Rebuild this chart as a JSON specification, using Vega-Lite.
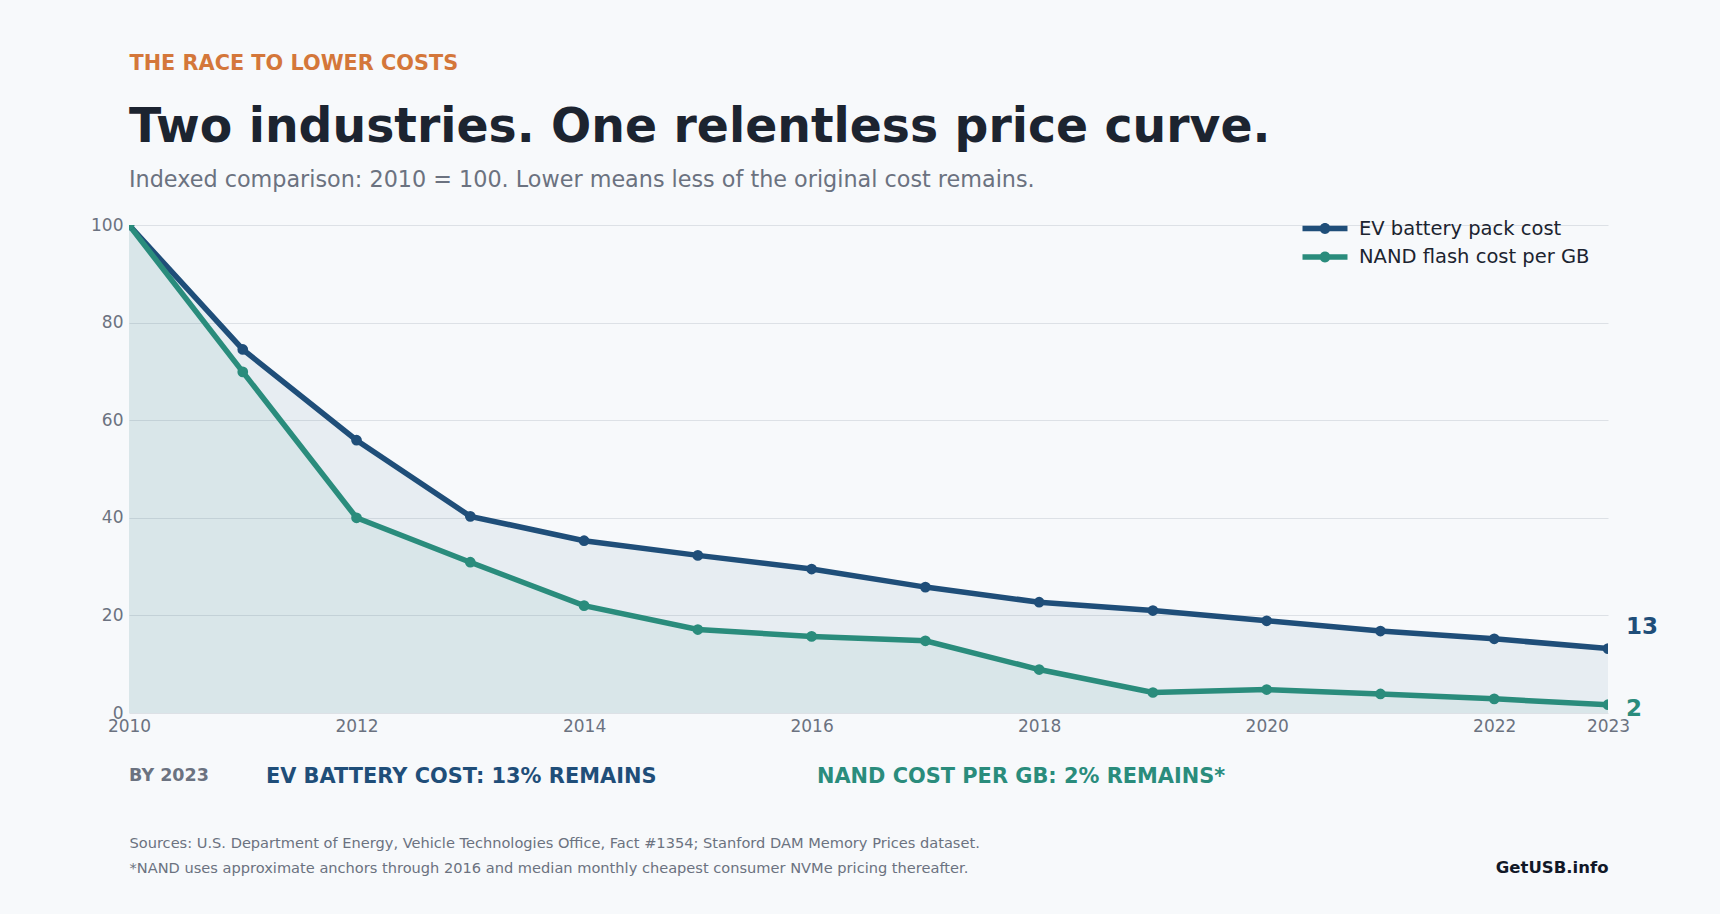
{
  "$schema": "https://vega.github.io/schema/vega-lite/v6.json",
  "width": 1479,
  "height": 488,
  "autosize": {"type": "none"},
  "padding": {"left": 129, "top": 225, "right": 112, "bottom": 201},
  "background": "#f7f9fb",
  "config": {"font": "DejaVu Sans", "view": {"stroke": null}},
  "title": {
    "text": "Two industries. One relentless price curve.",
    "subtitle": "Indexed comparison: 2010 = 100. Lower means less of the original cost remains.",
    "anchor": "start",
    "frame": "group",
    "fontSize": 47.3,
    "fontWeight": "bold",
    "color": "#1c2430",
    "subtitleFontSize": 22.3,
    "subtitleColor": "#6b7280",
    "subtitlePadding": 16,
    "offset": -140
  },
  "data": {
    "values": [
      {"year": 2010, "series": "EV battery pack cost", "value": 100},
      {"year": 2011, "series": "EV battery pack cost", "value": 74.5},
      {"year": 2012, "series": "EV battery pack cost", "value": 55.9},
      {"year": 2013, "series": "EV battery pack cost", "value": 40.3},
      {"year": 2014, "series": "EV battery pack cost", "value": 35.3},
      {"year": 2015, "series": "EV battery pack cost", "value": 32.3},
      {"year": 2016, "series": "EV battery pack cost", "value": 29.5},
      {"year": 2017, "series": "EV battery pack cost", "value": 25.8},
      {"year": 2018, "series": "EV battery pack cost", "value": 22.7},
      {"year": 2019, "series": "EV battery pack cost", "value": 21.0},
      {"year": 2020, "series": "EV battery pack cost", "value": 18.9},
      {"year": 2021, "series": "EV battery pack cost", "value": 16.8},
      {"year": 2022, "series": "EV battery pack cost", "value": 15.2},
      {"year": 2023, "series": "EV battery pack cost", "value": 13.2},
      {"year": 2010, "series": "NAND flash cost per GB", "value": 100},
      {"year": 2011, "series": "NAND flash cost per GB", "value": 69.9},
      {"year": 2012, "series": "NAND flash cost per GB", "value": 40.0},
      {"year": 2013, "series": "NAND flash cost per GB", "value": 30.9},
      {"year": 2014, "series": "NAND flash cost per GB", "value": 22.0},
      {"year": 2015, "series": "NAND flash cost per GB", "value": 17.1},
      {"year": 2016, "series": "NAND flash cost per GB", "value": 15.7},
      {"year": 2017, "series": "NAND flash cost per GB", "value": 14.8},
      {"year": 2018, "series": "NAND flash cost per GB", "value": 8.9},
      {"year": 2019, "series": "NAND flash cost per GB", "value": 4.2},
      {"year": 2020, "series": "NAND flash cost per GB", "value": 4.8},
      {"year": 2021, "series": "NAND flash cost per GB", "value": 3.9},
      {"year": 2022, "series": "NAND flash cost per GB", "value": 2.9},
      {"year": 2023, "series": "NAND flash cost per GB", "value": 1.7}
    ]
  },
  "resolve": {"axis": {"y": "independent"}},
  "layer": [
    {
      "mark": {"type": "area", "fillOpacity": 0.07, "clip": true},
      "encoding": {
        "x": {
          "field": "year", "type": "quantitative",
          "scale": {"domain": [2010, 2023], "nice": false, "zero": false},
          "axis": {
            "values": [2010, 2012, 2014, 2016, 2018, 2020, 2022, 2023],
            "format": "d",
            "labelFontSize": 17,
            "labelColor": "#6b7280",
            "labelPadding": 5,
            "ticks": false,
            "tickSize": 0,
            "domain": false,
            "grid": false,
            "labelFlush": false,
            "labelOverlap": false,
            "title": ["Sources: U.S. Department of Energy, Vehicle Technologies Office, Fact #1354; Stanford DAM Memory Prices dataset.", "*NAND uses approximate anchors through 2016 and median monthly cheapest consumer NVMe pricing thereafter."],
            "titleFontSize": 14.6,
            "titleFontWeight": "normal",
            "titleColor": "#6b7280",
            "titleAnchor": "start",
            "titleAlign": "left",
            "titleBaseline": "alphabetic",
            "titleX": 0,
            "titleY": 134,
            "titleLineHeight": 25,
            "titleLimit": 1400
          }
        },
        "y": {
          "field": "value", "type": "quantitative", "stack": null,
          "scale": {"domain": [0, 100], "nice": false},
          "axis": {
            "values": [0, 20, 40, 60, 80, 100],
            "labelFontSize": 17,
            "labelColor": "#6b7280",
            "labelPadding": 6,
            "ticks": false,
            "tickSize": 0,
            "domain": false,
            "grid": true,
            "gridColor": "#dde1e6",
            "gridWidth": 1.2,
            "title": "THE RACE TO LOWER COSTS",
            "titleAngle": 0,
            "titleAlign": "left",
            "titleBaseline": "alphabetic",
            "titleX": 0,
            "titleY": -156,
            "titleFontSize": 20.8,
            "titleFontWeight": "bold",
            "titleColor": "#d4773a",
            "titleLimit": 600
          }
        },
        "fill": {
          "field": "series", "type": "nominal",
          "scale": {"domain": ["EV battery pack cost", "NAND flash cost per GB"], "range": ["#1f4e79", "#2a8c7c"]},
          "legend": {
            "orient": "none",
            "legendX": 0,
            "legendY": 541,
            "direction": "horizontal",
            "title": "BY 2023",
            "titleOrient": "left",
            "titleFontSize": 17.5,
            "titleFontWeight": "bold",
            "titleColor": "#6b7280",
            "titlePadding": 36,
            "labelFontSize": 20.9,
            "labelFontWeight": "bold",
            "labelLimit": 1000,
            "labelExpr": "datum.label == 'EV battery pack cost' ? 'EV BATTERY COST: 13% REMAINS' : 'NAND COST PER GB: 2% REMAINS*'",
            "symbolSize": 0,
            "symbolOpacity": 0,
            "symbolStrokeWidth": 0,
            "labelOffset": 0,
            "columnPadding": 139,
            "encode": {"labels": {"update": {"fill": {"scale": "fill", "field": "value"}}}}
          }
        }
      }
    },
    {
      "mark": {"type": "line", "strokeWidth": 5.5, "clip": true},
      "encoding": {
        "x": {"field": "year", "type": "quantitative"},
        "y": {"field": "value", "type": "quantitative", "axis": null},
        "color": {
          "field": "series", "type": "nominal",
          "scale": {"range": ["#1f4e79", "#2a8c7c"]},
          "legend": {
            "orient": "none",
            "legendX": 1182,
            "legendY": -10.5,
            "title": null,
            "labelFontSize": 19.5,
            "labelColor": "#1c2430",
            "labelOffset": 20,
            "labelLimit": 600,
            "symbolType": "M-1.607,-0.196H1.607V0.196H-1.607Z M-0.39,0A0.39,0.39 0 1,1 0.39,0A0.39,0.39 0 1,1 -0.39,0Z",
            "symbolSize": 784,
            "symbolStrokeWidth": 0,
            "rowPadding": 4.5,
            "encode": {"symbols": {"update": {"fill": {"scale": "color", "field": "value"}, "opacity": {"value": 1}, "strokeWidth": {"value": 0}}}}
          }
        }
      }
    },
    {
      "mark": {"type": "point", "filled": true, "size": 115, "opacity": 1, "clip": true},
      "encoding": {
        "x": {"field": "year", "type": "quantitative"},
        "y": {"field": "value", "type": "quantitative", "axis": null},
        "color": {"field": "series", "type": "nominal"}
      }
    },
    {
      "transform": [{"filter": "datum.year == 2023 && datum.series == 'EV battery pack cost'"}],
      "mark": {"type": "text", "align": "left", "baseline": "middle", "dx": 18, "dy": -22, "fontSize": 23, "fontWeight": "bold", "color": "#1f4e79"},
      "encoding": {
        "x": {"field": "year", "type": "quantitative"},
        "y": {
          "field": "value", "type": "quantitative",
          "axis": {
            "orient": "right",
            "title": "GetUSB.info",
            "labels": false,
            "ticks": false,
            "domain": false,
            "grid": false,
            "titleAngle": 0,
            "titleAlign": "right",
            "titleBaseline": "alphabetic",
            "titleX": 0,
            "titleY": 647,
            "titleFontSize": 16.5,
            "titleFontWeight": "bold",
            "titleColor": "#111827"
          }
        },
        "text": {"field": "value", "type": "quantitative", "format": ".0f"}
      }
    },
    {
      "transform": [{"filter": "datum.year == 2023 && datum.series == 'NAND flash cost per GB'"}],
      "mark": {"type": "text", "align": "left", "baseline": "middle", "dx": 18, "dy": 4, "fontSize": 23, "fontWeight": "bold", "color": "#2a8c7c"},
      "encoding": {
        "x": {"field": "year", "type": "quantitative"},
        "y": {"field": "value", "type": "quantitative", "axis": null},
        "text": {"field": "value", "type": "quantitative", "format": ".0f"}
      }
    }
  ]
}
